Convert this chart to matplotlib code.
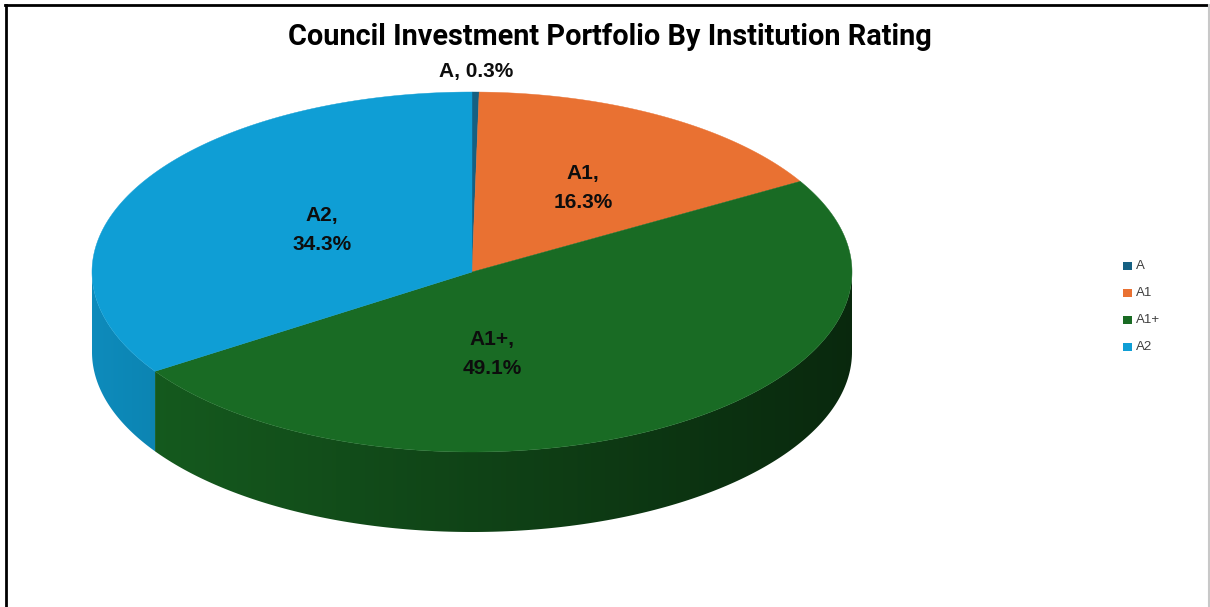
import numpy as np
import matplotlib
matplotlib.use("Agg")
import matplotlib.pyplot as plt
from matplotlib.patches import Polygon, Rectangle
from matplotlib.lines import Line2D
from matplotlib.colors import to_rgb

# ---- data ----
categories = ["A", "A1", "A1+", "A2"]
shares = [0.3, 16.3, 49.1, 34.3]
colors = ["#156082", "#E97132", "#196B24", "#0F9ED5"]
title = "Council Investment Portfolio By Institution Rating"

W, H = 1210, 607
fig = plt.figure(figsize=(W / 100, H / 100), dpi=100)
ax = fig.add_axes([0, 0, 1, 1])
ax.set_xlim(0, W)
ax.set_ylim(H, 0)
ax.axis("off")

# geometry of the 3-D pie (pixel space)
cx, cy, rx, ry, depth = 472, 272, 380, 180, 80


def pt(t):
    r = np.radians(t)
    return cx + rx * np.cos(r), cy - ry * np.sin(r)


vals = np.array(shares, dtype=float)
fr = vals / vals.sum()
ends = 90 - np.cumsum(fr) * 360
starts = np.concatenate([[90], ends[:-1]])

# side walls (visible bottom half: -180..0)
for i, col in enumerate(colors):
    a_hi, a_lo = starts[i], ends[i]
    segs = []
    for shift in (0, -360, 360):
        lo = max(a_lo + shift, -180)
        hi = min(a_hi + shift, 0)
        if hi > lo:
            segs.append((lo, hi))
    for lo, hi in segs:
        ts = np.linspace(lo, hi, 200)
        xs, ys = pt(ts)
        verts = list(zip(xs, ys)) + list(zip(xs[::-1], ys[::-1] + depth))
        poly = Polygon(verts, closed=True, facecolor="none", edgecolor="none")
        ax.add_patch(poly)
        n = 256
        gx = np.linspace(cx - rx, cx + rx, n)
        fac = 0.88 - 0.50 * (gx - (cx - rx)) / (2 * rx)
        base = np.array(to_rgb(col))
        img = np.clip(base[None, :] * fac[:, None], 0, 1)[None, :, :]
        im = ax.imshow(img, extent=(cx - rx, cx + rx, cy + ry + depth + 5, cy - 5),
                       aspect="auto", zorder=1, interpolation="bilinear")
        im.set_clip_path(poly)

# top faces
for i, col in enumerate(colors):
    ts = np.linspace(starts[i], ends[i], max(3, int(abs(starts[i] - ends[i]) * 3)))
    xs, ys = pt(ts)
    verts = [(cx, cy)] + list(zip(xs, ys))
    ax.add_patch(Polygon(verts, closed=True, facecolor=col, edgecolor=col,
                         linewidth=0.3, zorder=2))

# data labels
lab_font = dict(family=["Liberation Sans", "DejaVu Sans"], fontsize=15,
                fontweight="bold", color="#0d0d0d", ha="center", va="center",
                zorder=5, linespacing=1.7)
label_pos = {"A": (476, 71), "A1": (583, 188), "A1+": (492, 354), "A2": (322, 230)}
for cat, v in zip(categories, shares):
    x, y = label_pos[cat]
    if cat == "A":
        txt = f"{cat}, {v:.1f}%"
    else:
        txt = f"{cat},\n{v:.1f}%"
    ax.text(x, y, txt, **lab_font)

# title
ax.text(610, 37, title, ha="center", va="center", fontsize=20.8, fontweight="bold",
        family=["Roboto", "DejaVu Sans"], color="#000000", zorder=5)

# legend
for i, (cat, col) in enumerate(zip(categories, colors)):
    y = 266 + i * 27
    ax.add_patch(Rectangle((1123, y - 4.5), 8.5, 8.5, facecolor=col, edgecolor="none"))
    ax.text(1136, y, cat, ha="left", va="center", fontsize=9.5,
            family=["Liberation Sans", "DejaVu Sans"], color="#404040")

# frame (left/top black, right grey)
ax.add_line(Line2D([6, 6], [5, H], color="black", linewidth=2))
ax.add_line(Line2D([5, 1209], [5, 5], color="black", linewidth=2))
ax.add_line(Line2D([1208.5, 1208.5], [5, H], color="#c8c8c8", linewidth=1.5))

fig.savefig("out.png", dpi=100)
